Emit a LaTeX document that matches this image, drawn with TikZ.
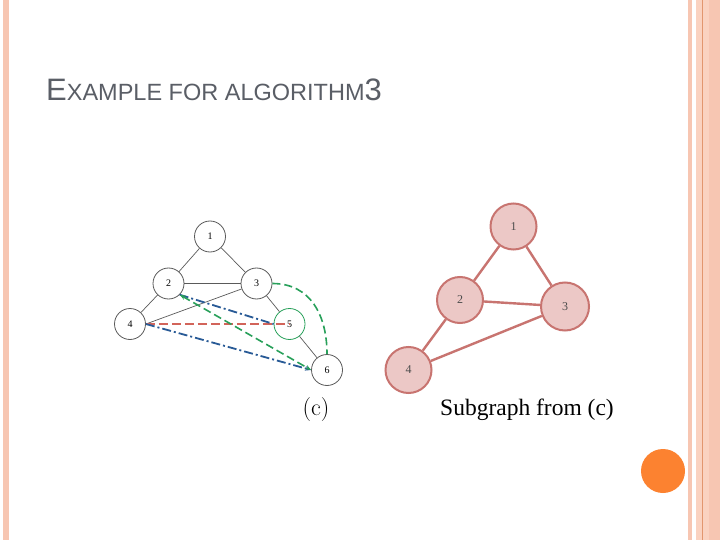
\documentclass[tikz,border=0pt]{standalone}
\usepackage{fontspec}
\setmainfont{Liberation Serif}
\newfontfamily\titlefont{Liberation Sans}
\newfontfamily\lmfont{Latin Modern Roman}
\usetikzlibrary{arrows.meta}
\definecolor{stripe}{RGB}{247,198,178}
\definecolor{stripedark}{RGB}{226,150,110}
\definecolor{stripelight}{RGB}{250,210,192}
\definecolor{titlegray}{RGB}{90,94,102}
\definecolor{subfill}{RGB}{236,200,198}
\definecolor{subdraw}{RGB}{200,116,112}
\definecolor{dotorange}{RGB}{252,130,48}
\definecolor{gblue}{RGB}{40,90,150}
\definecolor{ggreen}{RGB}{40,160,90}
\definecolor{gred}{RGB}{210,100,90}
\definecolor{edgegray}{RGB}{90,90,90}
\tikzset{
  lnode/.style={circle,draw=edgegray,fill=white,line width=0.8pt,minimum size=31pt,inner sep=0pt,font=\fontsize{10}{12}\selectfont},
  rnode/.style={circle,draw=subdraw,fill=subfill,line width=2pt,minimum size=46pt,inner sep=0pt,font=\fontsize{12}{14}\selectfont\color{black!70}},
  ledge/.style={draw=edgegray,line width=0.7pt},
  redge/.style={draw=subdraw,line width=2.4pt},
  bluedash/.style={draw=gblue,line width=1.8pt,dash pattern=on 9pt off 3pt on 2pt off 3pt},
  greendash/.style={draw=ggreen,line width=1.6pt,dash pattern=on 8pt off 4pt},
  reddash/.style={draw=gred,line width=1.2pt,dash pattern=on 9pt off 4pt},
}
\begin{document}
\begin{tikzpicture}[x=1pt,y=-1pt]
\useasboundingbox (0,0) rectangle (720,540);
\fill[white] (0,0) rectangle (720,540);
% side stripes
\fill[stripe] (3,0) rectangle (9,540);
\fill[stripe] (688,0) rectangle (692,540);
\fill[stripelight] (696,0) rectangle (709,540);
\fill[stripe] (709,0) rectangle (720,540);
\fill[stripedark] (701.5,0) rectangle (703,540);
% title
\node[anchor=base west,inner sep=0pt,text=titlegray] (title) at (46,101)
  {\titlefont\fontsize{31}{34}\selectfont E\fontsize{23.5}{26}\selectfont XAMPLE FOR ALGORITHM\fontsize{31}{34}\selectfont 3};
% left graph
\node[lnode] (a1) at (210,236.5) {1};
\node[lnode] (a2) at (168.5,283.5) {2};
\node[lnode] (a3) at (256.5,283.5) {3};
\node[lnode] (a4) at (130,324) {4};
\node[lnode,draw=ggreen] (a5) at (289.5,324) {5};
\node[lnode] (a6) at (327,370) {6};
\draw[ledge] (a1) -- (a2);
\draw[ledge] (a1) -- (a3);
\draw[ledge] (a2) -- (a3);
\draw[ledge] (a2) -- (a4);
\draw[ledge] (a3) -- (a4.east);
\draw[ledge] (a3) -- (a5);
\draw[ledge] (a5) -- (a6);
\draw[reddash] (a4.east) -- (a5.center);
\draw[bluedash] (a2.south east) -- (a5.west);
\draw[bluedash,-{Stealth[length=6pt]}] (a4.east) -- (a6.west);
\draw[greendash,{Stealth[length=6pt]}-{Stealth[length=6pt]}] (a2.south east) -- (a6.west);
\draw[greendash] (a3.east) to[out=0,in=90,looseness=1.1] (a6.north);
\node[font=\lmfont\fontsize{24}{26}\selectfont] (clab) at (316,410) {(c)};
% right graph
\node[rnode] (b1) at (513.5,226.5) {1};
\node[rnode] (b2) at (460,300) {2};
\node[rnode,minimum size=48pt] (b3) at (565,306.5) {3};
\node[rnode] (b4) at (408.5,370) {4};
\draw[redge] (b1) -- (b2);
\draw[redge] (b1) -- (b3);
\draw[redge] (b2) -- (b3);
\draw[redge] (b2) -- (b4);
\draw[redge] (b3) -- (b4);
\node[anchor=base west,inner sep=0pt,font=\fontsize{23.5}{26}\selectfont] (sublab) at (440,415) {Subgraph from (c)};
% orange dot
\fill[dotorange] (663,471) circle (22);
\end{tikzpicture}
\end{document}
